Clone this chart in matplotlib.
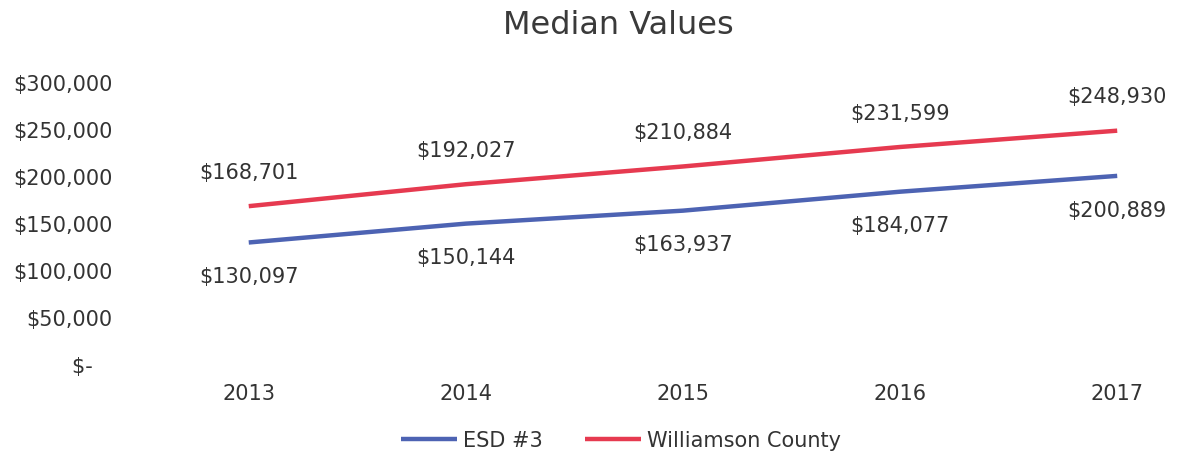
import matplotlib
matplotlib.use("Agg")
import matplotlib.pyplot as plt
from matplotlib.ticker import FuncFormatter

# ---- data ---------------------------------------------------------------------
YEARS = ["2013", "2014", "2015", "2016", "2017"]
ESD3 = [130097, 150144, 163937, 184077, 200889]
WILLIAMSON = [168701, 192027, 210884, 231599, 248930]

BLUE = "#4d63b3"
RED = "#e63a50"
INK = "#333333"
FONT = ["DejaVu Sans"]

plt.rcParams["font.family"] = FONT

fig = plt.figure(figsize=(11.78, 4.59), dpi=100)
ax = fig.add_axes([0.119, 0.205, 0.881, 0.615])

x = list(range(len(YEARS)))
ax.plot(x, ESD3, color=BLUE, lw=3.2, label="ESD #3", solid_capstyle="butt")
ax.plot(x, WILLIAMSON, color=RED, lw=3.2, label="Williamson County", solid_capstyle="butt")

for xi, v in zip(x, WILLIAMSON):
    ax.annotate(f"${v:,}", (xi, v), xytext=(0, 24), textcoords="offset points",
                ha="center", va="center", fontsize=15, color=INK)
for xi, v in zip(x, ESD3):
    ax.annotate(f"${v:,}", (xi, v), xytext=(0, -25), textcoords="offset points",
                ha="center", va="center", fontsize=15, color=INK)

ax.set_ylim(0, 300000)
ax.set_yticks(range(0, 300001, 50000))
# accounting style: zero shown as "$-" set in from the right edge
ax.yaxis.set_major_formatter(FuncFormatter(lambda v, p: "$-   " if v == 0 else f"${int(v):,}"))
ax.set_xlim(-0.5, 4.28)
ax.set_xticks(x)
ax.set_xticklabels(YEARS)
ax.tick_params(axis="both", length=0, labelsize=15, labelcolor=INK)
ax.tick_params(axis="x", pad=14)
ax.tick_params(axis="y", pad=20)
for s in ax.spines.values():
    s.set_visible(False)

fig.text(0.525, 0.945, "Median Values", ha="center", va="center",
         fontsize=23, color="#3a3a3a")

ax.legend(loc="center", bbox_to_anchor=(0.527, 0.04), bbox_transform=fig.transFigure,
          ncol=2, frameon=False, fontsize=15, handlelength=2.7, columnspacing=2.0,
          handletextpad=0.3, labelcolor=INK)

fig.savefig("out.png", dpi=100, facecolor="white")
